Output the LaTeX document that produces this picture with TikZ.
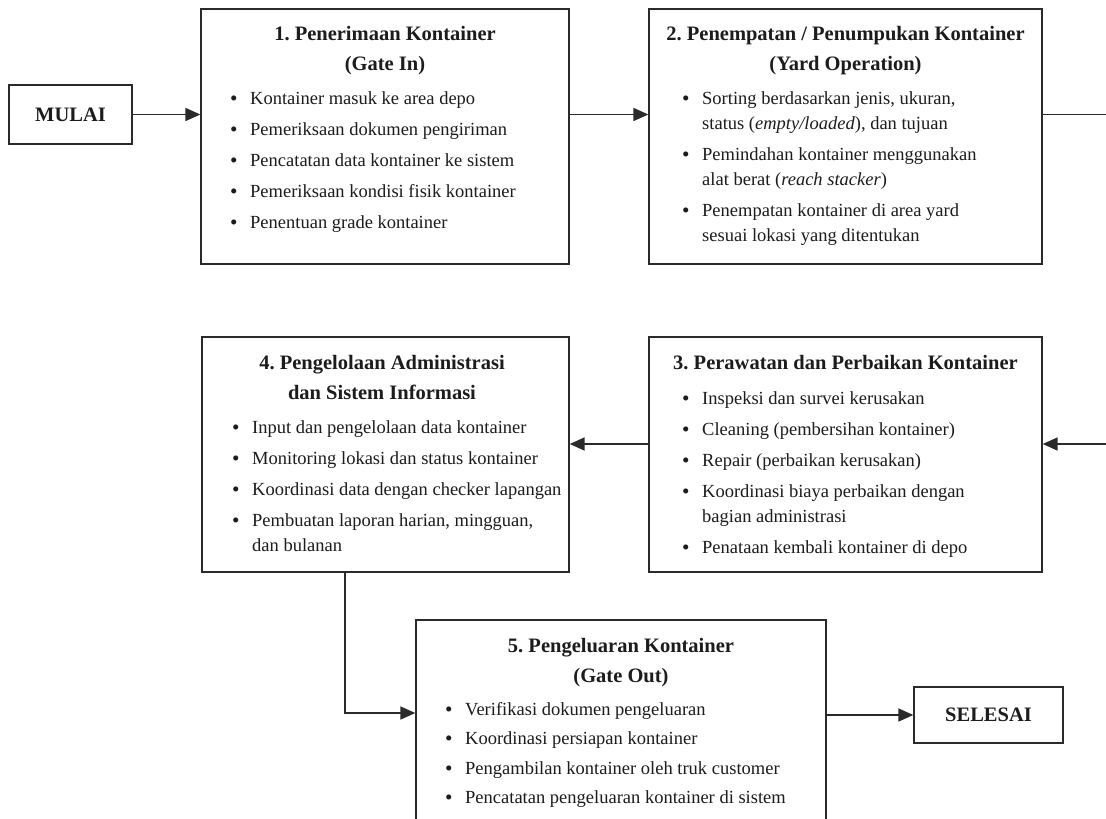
\documentclass[tikz,border=0pt]{standalone}
\usepackage{fontspec}
\setmainfont{Liberation Serif}
\usetikzlibrary{arrows.meta,calc}
\definecolor{ink}{HTML}{1C1C1C}
\definecolor{edge}{HTML}{2A2A2A}
\frenchspacing
\newcommand{\bodyfont}{\fontsize{18.5}{25}\selectfont\frenchspacing}
\newcommand{\headfont}{\fontsize{20.5}{30}\selectfont\bfseries\frenchspacing}
\newcommand{\bu}{\makebox[20pt][l]{\raisebox{-1.2pt}{\scalebox{1.15}{\textbullet}}}}
\begin{document}
\begin{tikzpicture}[x=1pt,y=-1pt,
  box/.style={draw=edge, line width=1.3pt, rectangle, inner sep=0pt, fill=white},
  endbox/.style={box, text=ink, font=\headfont},
  head/.style={anchor=base, inner sep=0pt, text=ink, font=\headfont},
  list/.style={anchor=base west, inner sep=0pt, text=ink, font=\bodyfont},
  arr/.style={draw=edge, line width=1.6pt, -{Triangle[length=15pt,width=13pt]}}]
\useasboundingbox (0,0) rectangle (1106,819);
\fill[white] (0,0) rectangle (1106,819);

% boxes
\node[endbox, minimum width=123pt, minimum height=59pt] (start) at (70.5,114.5) {MULAI};
\node[box, minimum width=368pt, minimum height=255pt] (b1) at (385,136.5) {};
\node[box, minimum width=393pt, minimum height=255pt] (b2) at (845.5,136.5) {};
\node[box, minimum width=393pt, minimum height=235pt] (b3) at (845.5,454.5) {};
\node[box, minimum width=367pt, minimum height=235pt] (b4) at (385.5,454.5) {};
\node[box, minimum width=410pt, minimum height=215pt] (b5) at (621,727.5) {};
\node[endbox, minimum width=149pt, minimum height=56pt] (end) at (988.5,715) {SELESAI};

% box 1
\node[head] (t1) at (385,40) {\begin{tabular}[t]{@{}c@{}}1. Penerimaan Kontainer\\(Gate In)\end{tabular}};
\node[list] (l1) at (230,104) {\begin{tabular}[t]{@{}l@{}l@{}}
\bu & Kontainer masuk ke area depo\\[6pt]
\bu & Pemeriksaan dokumen pengiriman\\[6pt]
\bu & Pencatatan data kontainer ke sistem\\[6pt]
\bu & Pemeriksaan kondisi fisik kontainer\\[6pt]
\bu & Penentuan grade kontainer
\end{tabular}};

% box 2
\node[head] (t2) at (845.5,40) {\begin{tabular}[t]{@{}c@{}}2. Penempatan / Penumpukan Kontainer\\(Yard Operation)\end{tabular}};
\node[list] (l2) at (682,104) {\begin{tabular}[t]{@{}l@{}l@{}}
\bu & Sorting berdasarkan jenis, ukuran,\\
    & status (\textit{empty/loaded}), dan tujuan\\[6pt]
\bu & Pemindahan kontainer menggunakan\\
    & alat berat (\textit{reach stacker})\\[6pt]
\bu & Penempatan kontainer di area yard\\
    & sesuai lokasi yang ditentukan
\end{tabular}};

% box 3
\node[head] (t3) at (845.5,369) {\begin{tabular}[t]{@{}c@{}}3. Perawatan dan Perbaikan Kontainer\end{tabular}};
\node[list] (l3) at (682,404) {\begin{tabular}[t]{@{}l@{}l@{}}
\bu & Inspeksi dan survei kerusakan\\[6pt]
\bu & Cleaning (pembersihan kontainer)\\[6pt]
\bu & Repair (perbaikan kerusakan)\\[6pt]
\bu & Koordinasi biaya perbaikan dengan\\
    & bagian administrasi\\[6pt]
\bu & Penataan kembali kontainer di depo
\end{tabular}};

% box 4
\node[head] (t4) at (382,369) {\begin{tabular}[t]{@{}c@{}}4. Pengelolaan Administrasi\\dan Sistem Informasi\end{tabular}};
\node[list] (l4) at (232,433) {\begin{tabular}[t]{@{}l@{}l@{}}
\bu & Input dan pengelolaan data kontainer\\[6pt]
\bu & Monitoring lokasi dan status kontainer\\[6pt]
\bu & Koordinasi data dengan checker lapangan\\[6pt]
\bu & Pembuatan laporan harian, mingguan,\\
    & dan bulanan
\end{tabular}};

% box 5
\node[head] (t5) at (621,652) {\begin{tabular}[t]{@{}c@{}}5. Pengeluaran Kontainer\\(Gate Out)\end{tabular}};
\node[list] (l5) at (445,715) {\begin{tabular}[t]{@{}l@{}l@{}}
\bu & Verifikasi dokumen pengeluaran\\[4.5pt]
\bu & Koordinasi persiapan kontainer\\[4.5pt]
\bu & Pengambilan kontainer oleh truk customer\\[4.5pt]
\bu & Pencatatan pengeluaran kontainer di sistem
\end{tabular}};

% connectors
\coordinate (e1) at (1108,114.5);
\coordinate (e2) at (1108,444);
\coordinate (bend) at (345,713);
\draw[arr] (start.east) -- (start.east -| b1.west);
\draw[arr] (b1.east |- start.east) -- (b2.west |- start.east);
\draw[arr] (b2.east |- e1) -- (e1) -- (e2) -- (e2 -| b3.east);
\draw[arr] (b3.west |- e2) -- (b4.east |- e2);
\draw[arr] (b4.south -| bend) -- (bend) -- (bend -| b5.west);
\draw[arr] (b5.east |- end.west) -- (end.west);
\end{tikzpicture}
\end{document}
